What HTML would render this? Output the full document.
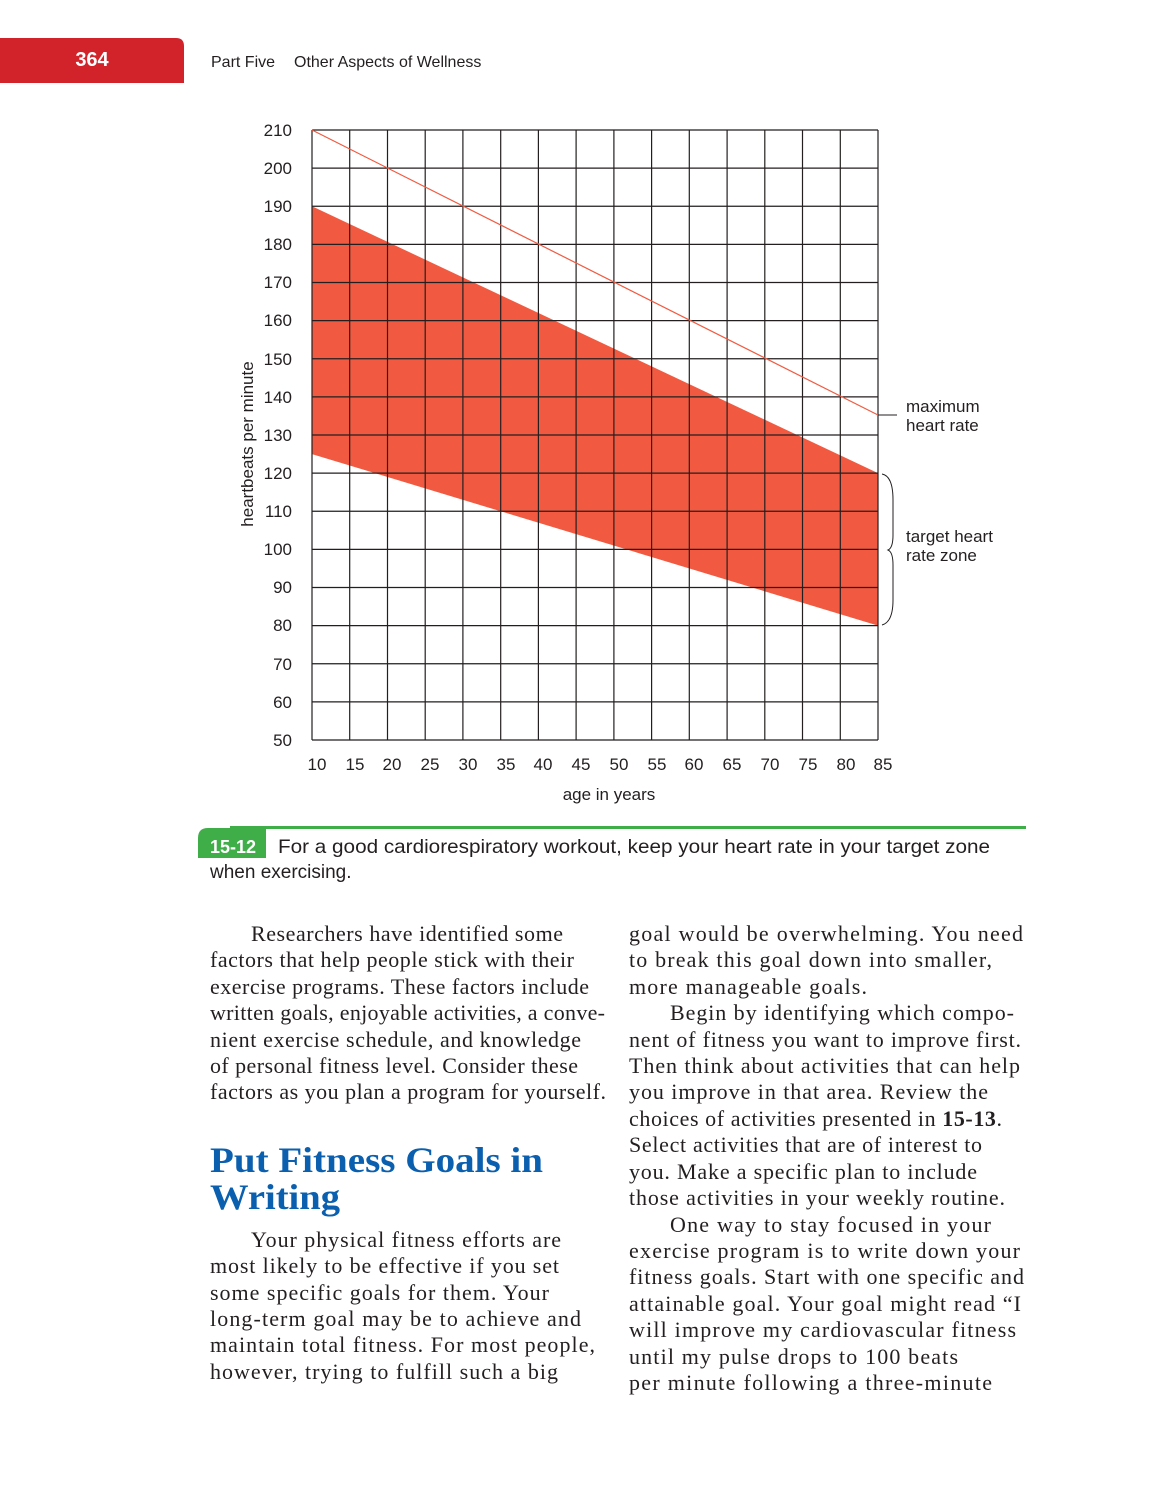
<!DOCTYPE html>
<html><head><meta charset="utf-8"><style>
html,body{margin:0;padding:0;background:#fff}
svg{display:block}
.s{font-family:"Liberation Sans",sans-serif;fill:#231f20}
.b{font-family:"Liberation Serif",serif;font-size:22px;fill:#231f20}
</style></head><body>
<svg width="1167" height="1490" viewBox="0 0 1167 1490" xmlns="http://www.w3.org/2000/svg">
<path d="M0 38 H176 Q184 38 184 46 V83 H0 Z" fill="#d2232a"/>
<text x="92" y="66" class="s" style="font-size:20px;font-weight:bold;fill:#fff" text-anchor="middle">364</text>
<text x="211" y="67" class="s" style="font-size:16px">Part Five</text>
<text x="294" y="67" class="s" style="font-size:16px">Other Aspects of Wellness</text>

<polygon points="312,206.25 878,473.1 878,625.6 312,454.1" fill="#f15a40"/>
<g stroke="#231f20" stroke-width="1.2">
<line x1="312" y1="130" x2="878" y2="130"/><line x1="312" y1="168.1" x2="878" y2="168.1"/><line x1="312" y1="206.25" x2="878" y2="206.25"/><line x1="312" y1="244.4" x2="878" y2="244.4"/><line x1="312" y1="282.5" x2="878" y2="282.5"/><line x1="312" y1="320.6" x2="878" y2="320.6"/><line x1="312" y1="358.75" x2="878" y2="358.75"/><line x1="312" y1="396.9" x2="878" y2="396.9"/><line x1="312" y1="435" x2="878" y2="435"/><line x1="312" y1="473.1" x2="878" y2="473.1"/><line x1="312" y1="511.25" x2="878" y2="511.25"/><line x1="312" y1="549.4" x2="878" y2="549.4"/><line x1="312" y1="587.5" x2="878" y2="587.5"/><line x1="312" y1="625.6" x2="878" y2="625.6"/><line x1="312" y1="663.75" x2="878" y2="663.75"/><line x1="312" y1="701.9" x2="878" y2="701.9"/><line x1="312" y1="740" x2="878" y2="740"/>
<line x1="312" y1="130" x2="312" y2="740"/><line x1="349.7" y1="130" x2="349.7" y2="740"/><line x1="387.5" y1="130" x2="387.5" y2="740"/><line x1="425.2" y1="130" x2="425.2" y2="740"/><line x1="462.9" y1="130" x2="462.9" y2="740"/><line x1="500.7" y1="130" x2="500.7" y2="740"/><line x1="538.4" y1="130" x2="538.4" y2="740"/><line x1="576.1" y1="130" x2="576.1" y2="740"/><line x1="613.9" y1="130" x2="613.9" y2="740"/><line x1="651.6" y1="130" x2="651.6" y2="740"/><line x1="689.3" y1="130" x2="689.3" y2="740"/><line x1="727.1" y1="130" x2="727.1" y2="740"/><line x1="764.8" y1="130" x2="764.8" y2="740"/><line x1="802.5" y1="130" x2="802.5" y2="740"/><line x1="840.3" y1="130" x2="840.3" y2="740"/><line x1="878" y1="130" x2="878" y2="740"/>
</g>
<line x1="312" y1="130" x2="878" y2="415" stroke="#f15a40" stroke-width="1.2"/>
<line x1="878" y1="415" x2="897" y2="415" stroke="#231f20" stroke-width="1"/>
<path d="M882 474 Q893 476 893 500 V535 Q893 548 888 550 Q893 552 893 565 V600 Q893 622 882 625" fill="none" stroke="#231f20" stroke-width="1"/>
<g class="s" style="font-size:17px">
<text x="906" y="412">maximum</text><text x="906" y="431">heart rate</text>
<text x="906" y="542">target heart</text><text x="906" y="561">rate zone</text>
</g>
<g class="s" style="font-size:17px" text-anchor="end">
<text x="292" y="136">210</text><text x="292" y="174">200</text><text x="292" y="212">190</text><text x="292" y="250">180</text><text x="292" y="288">170</text><text x="292" y="326">160</text><text x="292" y="365">150</text><text x="292" y="403">140</text><text x="292" y="441">130</text><text x="292" y="479">120</text><text x="292" y="517">110</text><text x="292" y="555">100</text><text x="292" y="593">90</text><text x="292" y="631">80</text><text x="292" y="670">70</text><text x="292" y="708">60</text><text x="292" y="746">50</text>
</g>
<g class="s" style="font-size:17px" text-anchor="middle">
<text x="317" y="770">10</text><text x="355" y="770">15</text><text x="392" y="770">20</text><text x="430" y="770">25</text><text x="468" y="770">30</text><text x="506" y="770">35</text><text x="543" y="770">40</text><text x="581" y="770">45</text><text x="619" y="770">50</text><text x="657" y="770">55</text><text x="694" y="770">60</text><text x="732" y="770">65</text><text x="770" y="770">70</text><text x="808" y="770">75</text><text x="846" y="770">80</text><text x="883" y="770">85</text>
<text x="609" y="800">age in years</text>
</g>
<text transform="translate(253,444) rotate(-90)" class="s" style="font-size:17px" text-anchor="middle">heartbeats per minute</text>

<rect x="230" y="826" width="796" height="3" fill="#3fae49"/>
<path d="M198 838 Q198 828 208 828 H266 V858 H198 Z" fill="#3fae49"/>
<text x="210" y="853" class="s" style="font-size:18px;font-weight:bold;fill:#fff">15-12</text>
<text x="278" y="853" class="s" style="font-size:19.5px" textLength="712" lengthAdjust="spacingAndGlyphs">For a good cardiorespiratory workout, keep your heart rate in your target zone</text>
<text x="210" y="878" class="s" style="font-size:19px">when exercising.</text>

<g class="b" lengthAdjust="spacingAndGlyphs">
<text x="251" y="941" textLength="312">Researchers have identified some</text>
<text x="210" y="967" textLength="364">factors that help people stick with their</text>
<text x="210" y="994" textLength="379">exercise programs. These factors include</text>
<text x="210" y="1020" textLength="395">written goals, enjoyable activities, a conve-</text>
<text x="210" y="1047" textLength="371">nient exercise schedule, and knowledge</text>
<text x="210" y="1073" textLength="368">of personal fitness level. Consider these</text>
<text x="210" y="1099" textLength="396">factors as you plan a program for yourself.</text>
<text x="251" y="1247" textLength="310">Your physical fitness efforts are</text>
<text x="210" y="1273" textLength="349">most likely to be effective if you set</text>
<text x="210" y="1300" textLength="339">some specific goals for them. Your</text>
<text x="210" y="1326" textLength="371">long-term goal may be to achieve and</text>
<text x="210" y="1352" textLength="385">maintain total fitness. For most people,</text>
<text x="210" y="1379" textLength="348">however, trying to fulfill such a big</text>
</g>
<g style="font-family:'Liberation Serif',serif;font-weight:bold;font-size:36px;fill:#0a5fae">
<text x="210" y="1172" textLength="333" lengthAdjust="spacingAndGlyphs">Put Fitness Goals in</text>
<text x="210" y="1209" textLength="130" lengthAdjust="spacingAndGlyphs">Writing</text>
</g>
<g class="b" lengthAdjust="spacingAndGlyphs">
<text x="629" y="941" textLength="394">goal would be overwhelming. You need</text>
<text x="629" y="967" textLength="363">to break this goal down into smaller,</text>
<text x="629" y="994" textLength="238">more manageable goals.</text>
<text x="670" y="1020" textLength="344">Begin by identifying which compo-</text>
<text x="629" y="1047" textLength="392">nent of fitness you want to improve first.</text>
<text x="629" y="1073" textLength="391">Then think about activities that can help</text>
<text x="629" y="1099" textLength="359">you improve in that area. Review the</text>
<text x="629" y="1126" textLength="373">choices of activities presented in <tspan font-weight="bold">15-13</tspan>.</text>
<text x="629" y="1152" textLength="353">Select activities that are of interest to</text>
<text x="629" y="1179" textLength="348">you. Make a specific plan to include</text>
<text x="629" y="1205" textLength="376">those activities in your weekly routine.</text>
<text x="670" y="1232" textLength="321">One way to stay focused in your</text>
<text x="629" y="1258" textLength="391">exercise program is to write down your</text>
<text x="629" y="1284" textLength="395">fitness goals. Start with one specific and</text>
<text x="629" y="1311" textLength="392">attainable goal. Your goal might read “I</text>
<text x="629" y="1337" textLength="387">will improve my cardiovascular fitness</text>
<text x="629" y="1364" textLength="329">until my pulse drops to 100 beats</text>
<text x="629" y="1390" textLength="363">per minute following a three-minute</text>
</g>
</svg>
</body></html>
